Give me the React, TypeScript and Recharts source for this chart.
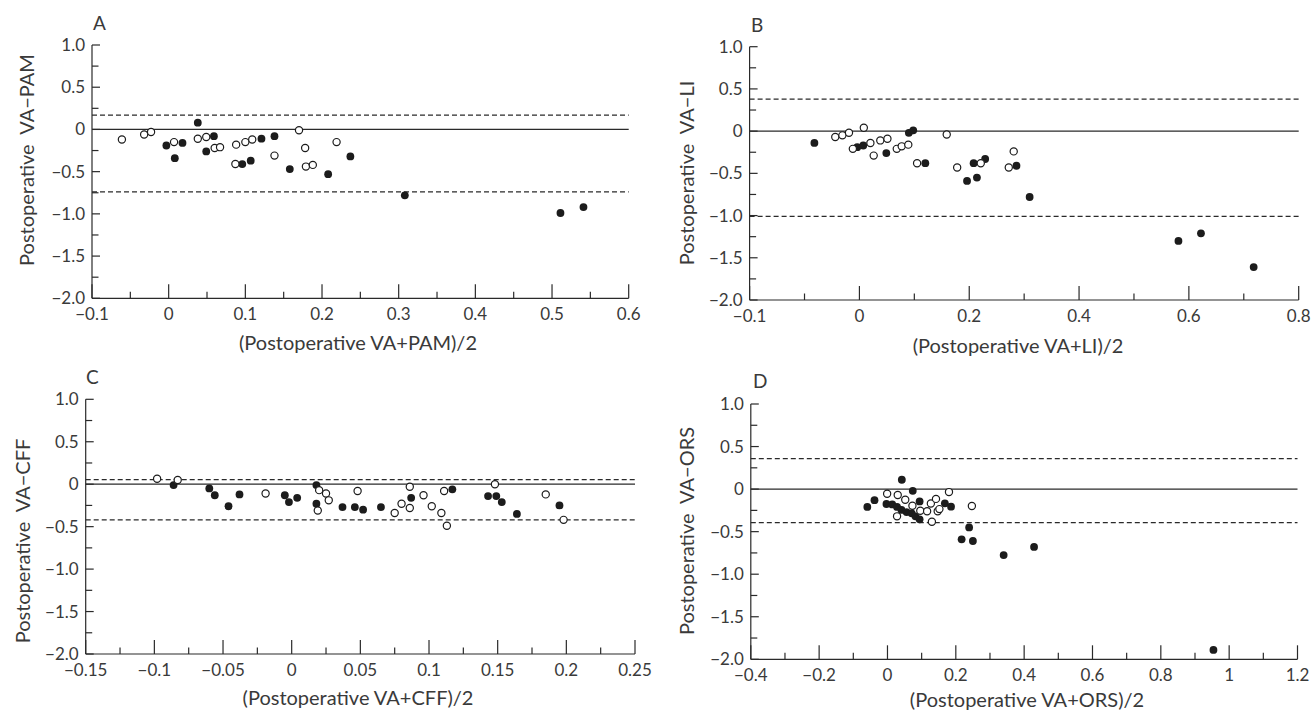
import React from 'react';
import { ScatterChart, Scatter, XAxis, YAxis, ReferenceLine } from 'recharts';

type Pt = { x: number; y: number };

// ---- Panel A: VA vs PAM
const aOpen: Pt[] = [
  { x: -0.061, y: -0.12 }, { x: -0.032, y: -0.06 }, { x: -0.023, y: -0.03 }, { x: 0.007, y: -0.15 },
  { x: 0.038, y: -0.11 }, { x: 0.049, y: -0.09 }, { x: 0.06, y: -0.22 }, { x: 0.067, y: -0.21 },
  { x: 0.088, y: -0.18 }, { x: 0.087, y: -0.41 }, { x: 0.1, y: -0.15 }, { x: 0.109, y: -0.12 },
  { x: 0.138, y: -0.31 }, { x: 0.17, y: -0.01 }, { x: 0.178, y: -0.22 }, { x: 0.179, y: -0.44 },
  { x: 0.188, y: -0.42 }, { x: 0.219, y: -0.15 },
];
const aFilled: Pt[] = [
  { x: -0.003, y: -0.19 }, { x: 0.008, y: -0.34 }, { x: 0.018, y: -0.16 }, { x: 0.038, y: 0.08 },
  { x: 0.049, y: -0.26 }, { x: 0.059, y: -0.08 }, { x: 0.096, y: -0.41 }, { x: 0.107, y: -0.37 },
  { x: 0.121, y: -0.11 }, { x: 0.138, y: -0.08 }, { x: 0.158, y: -0.47 }, { x: 0.208, y: -0.53 },
  { x: 0.237, y: -0.32 }, { x: 0.308, y: -0.78 }, { x: 0.511, y: -0.99 }, { x: 0.541, y: -0.92 },
];
const aLimits = [0.17, -0.74];
const aXMajor = [-0.1, 0, 0.1, 0.2, 0.3, 0.4, 0.5, 0.6];
const aXLabels = ['−0.1', '0', '0.1', '0.2', '0.3', '0.4', '0.5', '0.6'];
const aXMinor = [-0.05, 0.05, 0.15, 0.25, 0.35, 0.45, 0.55];

// ---- Panel B: VA vs LI (left tick is printed as "-0.1" in the original)
const bOpen: Pt[] = [
  { x: -0.044, y: -0.07 }, { x: -0.031, y: -0.05 }, { x: -0.019, y: -0.02 }, { x: 0.008, y: 0.04 },
  { x: -0.012, y: -0.21 }, { x: 0.02, y: -0.14 }, { x: 0.026, y: -0.29 }, { x: 0.038, y: -0.11 },
  { x: 0.051, y: -0.09 }, { x: 0.068, y: -0.21 }, { x: 0.077, y: -0.18 }, { x: 0.089, y: -0.16 },
  { x: 0.105, y: -0.38 }, { x: 0.159, y: -0.04 }, { x: 0.178, y: -0.43 }, { x: 0.221, y: -0.38 },
  { x: 0.272, y: -0.43 }, { x: 0.281, y: -0.24 },
];
const bFilled: Pt[] = [
  { x: -0.082, y: -0.14 }, { x: -0.004, y: -0.19 }, { x: 0.007, y: -0.17 }, { x: 0.049, y: -0.26 },
  { x: 0.09, y: -0.02 }, { x: 0.098, y: 0.01 }, { x: 0.12, y: -0.38 }, { x: 0.196, y: -0.59 },
  { x: 0.208, y: -0.38 }, { x: 0.214, y: -0.55 }, { x: 0.229, y: -0.33 }, { x: 0.286, y: -0.41 },
  { x: 0.31, y: -0.78 }, { x: 0.581, y: -1.3 }, { x: 0.622, y: -1.21 }, { x: 0.718, y: -1.61 },
];
const bLimits = [0.38, -1.01];
const bXMajor = [-0.2, 0, 0.2, 0.4, 0.6, 0.8];
const bXLabels = ['−0.1', '0', '0.2', '0.4', '0.6', '0.8'];
const bXMinor = [-0.1, 0.1, 0.3, 0.5, 0.7];

// ---- Panel C: VA vs CFF
const cOpen: Pt[] = [
  { x: -0.098, y: 0.065 }, { x: -0.083, y: 0.05 }, { x: -0.019, y: -0.11 }, { x: 0.019, y: -0.31 },
  { x: 0.02, y: -0.07 }, { x: 0.025, y: -0.11 }, { x: 0.027, y: -0.19 }, { x: 0.048, y: -0.08 },
  { x: 0.075, y: -0.34 }, { x: 0.08, y: -0.23 }, { x: 0.086, y: -0.28 }, { x: 0.086, y: -0.03 },
  { x: 0.096, y: -0.13 }, { x: 0.102, y: -0.26 }, { x: 0.109, y: -0.34 }, { x: 0.111, y: -0.08 },
  { x: 0.113, y: -0.49 }, { x: 0.148, y: 0.0 }, { x: 0.185, y: -0.12 }, { x: 0.198, y: -0.42 },
];
const cFilled: Pt[] = [
  { x: -0.086, y: -0.01 }, { x: -0.06, y: -0.05 }, { x: -0.056, y: -0.13 }, { x: -0.046, y: -0.26 },
  { x: -0.038, y: -0.12 }, { x: -0.005, y: -0.13 }, { x: -0.002, y: -0.21 }, { x: 0.004, y: -0.16 },
  { x: 0.018, y: -0.01 }, { x: 0.018, y: -0.23 }, { x: 0.037, y: -0.27 }, { x: 0.046, y: -0.27 },
  { x: 0.052, y: -0.3 }, { x: 0.065, y: -0.27 }, { x: 0.087, y: -0.16 }, { x: 0.117, y: -0.06 },
  { x: 0.143, y: -0.14 }, { x: 0.149, y: -0.14 }, { x: 0.153, y: -0.21 }, { x: 0.164, y: -0.35 },
  { x: 0.195, y: -0.25 },
];
const cLimits = [0.055, -0.42];
const cXMajor = [-0.15, -0.1, -0.05, 0, 0.05, 0.1, 0.15, 0.2, 0.25];
const cXLabels = ['−0.15', '−0.1', '−0.05', '0', '0.05', '0.1', '0.15', '0.2', '0.25'];
const cXMinor = [-0.125, -0.075, -0.025, 0.025, 0.075, 0.125, 0.175, 0.225];

// ---- Panel D: VA vs ORS
const dOpen: Pt[] = [
  { x: -0.001, y: -0.055 }, { x: 0.03, y: -0.07 }, { x: 0.052, y: -0.125 }, { x: 0.073, y: -0.195 },
  { x: 0.096, y: -0.255 }, { x: 0.116, y: -0.26 }, { x: 0.127, y: -0.17 }, { x: 0.142, y: -0.115 },
  { x: 0.147, y: -0.26 }, { x: 0.152, y: -0.235 }, { x: 0.18, y: -0.035 }, { x: 0.028, y: -0.32 },
  { x: 0.13, y: -0.383 }, { x: 0.247, y: -0.198 },
];
const dFilled: Pt[] = [
  { x: -0.059, y: -0.21 }, { x: -0.038, y: -0.13 }, { x: 0.042, y: 0.11 }, { x: 0.074, y: -0.02 },
  { x: -0.003, y: -0.175 }, { x: 0.014, y: -0.18 }, { x: 0.028, y: -0.21 }, { x: 0.041, y: -0.245 },
  { x: 0.056, y: -0.27 }, { x: 0.071, y: -0.285 }, { x: 0.082, y: -0.32 }, { x: 0.094, y: -0.355 },
  { x: 0.094, y: -0.145 }, { x: 0.168, y: -0.167 }, { x: 0.186, y: -0.207 }, { x: 0.239, y: -0.45 },
  { x: 0.217, y: -0.59 }, { x: 0.25, y: -0.61 }, { x: 0.34, y: -0.775 }, { x: 0.429, y: -0.68 },
  { x: 0.954, y: -1.89 },
];
const dLimits = [0.357, -0.394];
const dXMajor = [-0.4, -0.2, 0, 0.2, 0.4, 0.6, 0.8, 1, 1.2];
const dXLabels = ['−0.4', '−0.2', '0', '0.2', '0.4', '0.6', '0.8', '1', '1.2'];
const dXMinor = [-0.3, -0.1, 0.1, 0.3, 0.5, 0.7, 0.9, 1.1];

// shared y axis
const yMajor = [1, 0.5, 0, -0.5, -1, -1.5, -2];
const yLabels = ['1.0', '0.5', '0', '−0.5', '−1.0', '−1.5', '−2.0'];
const yMinor = [0.75, 0.25, -0.25, -0.75, -1.25, -1.75];

const ink = '#1c1c1c';
const lineInk = '#2a2a2a';
const textInk = '#3a3a3a';
const font = 'Lato, "DejaVu Sans", sans-serif';
const tickSize = 17;
const titleSize = 20;

const findMajor = (arr: number[], v: number) => arr.findIndex((m) => Math.abs(m - v) < 1e-9);

const XTick = (props: any) => {
  const { x, y, payload, majors, labels } = props;
  const i = findMajor(majors, payload.value);
  const major = i >= 0;
  return (
    <g>
      <line x1={x} x2={x} y1={y} y2={y - (major ? 14 : 6.5)} stroke={lineInk} strokeWidth={1.2} />
      {major && (
        <text x={x} y={y + 22} textAnchor="middle" fill={textInk} fontFamily={font} fontSize={tickSize}>
          {labels[i]}
        </text>
      )}
    </g>
  );
};

const YTick = (props: any) => {
  const { x, y, payload } = props;
  const i = findMajor(yMajor, payload.value);
  const major = i >= 0;
  return (
    <g>
      <line x1={x} x2={x + (major ? 8 : 6.5)} y1={y} y2={y} stroke={lineInk} strokeWidth={1.2} />
      {major && (
        <text x={x - 7} y={y + 6} textAnchor="end" fill={textInk} fontFamily={font} fontSize={tickSize}>
          {yLabels[i]}
        </text>
      )}
    </g>
  );
};

const openDot = (p: any) => (
  <circle cx={p.cx} cy={p.cy} r={3.6} fill="#fff" stroke={ink} strokeWidth={1.2} />
);
const filledDot = (p: any) => <circle cx={p.cx} cy={p.cy} r={3.9} fill={ink} />;

type PanelProps = {
  left: number; top: number; width: number; height: number;
  plot: { l: number; r: number; t: number; b: number };
  letter: string; letterPos: [number, number];
  xDomain: [number, number];
  xMajor: number[]; xMinor: number[]; xLabels: string[];
  open: Pt[]; filled: Pt[]; limits: number[];
  xTitle: string; xTitlePos: [number, number];
  yTitle: string; yTitlePos: [number, number];
};

const Panel = (p: PanelProps) => {
  const xTicks = [...p.xMajor, ...p.xMinor].sort((a, b) => a - b);
  const yTicks = [...yMajor, ...yMinor].sort((a, b) => a - b);
  return (
    <>
      <div style={{ position: 'absolute', left: p.left, top: p.top, width: p.width, height: p.height }}>
        <ScatterChart
          width={p.width}
          height={p.height}
          style={{ overflow: 'visible' }}
          margin={{ top: p.plot.t - p.top, right: p.left + p.width - p.plot.r, left: 0, bottom: 0 }}
        >
          <XAxis
            type="number"
            dataKey="x"
            domain={p.xDomain}
            ticks={xTicks}
            interval={0}
            allowDataOverflow
            height={p.top + p.height - p.plot.b}
            axisLine={{ stroke: lineInk, strokeWidth: 1.2 }}
            tickLine={false}
            tickSize={0}
            tickMargin={0}
            tick={(t: any) => <XTick {...t} majors={p.xMajor} labels={p.xLabels} />}
          />
          <YAxis
            type="number"
            dataKey="y"
            domain={[-2, 1]}
            ticks={yTicks}
            interval={0}
            allowDataOverflow
            width={p.plot.l - p.left}
            axisLine={{ stroke: lineInk, strokeWidth: 1.2 }}
            tickLine={false}
            tickSize={0}
            tickMargin={0}
            tick={(t: any) => <YTick {...t} />}
          />
          <ReferenceLine y={0} stroke={lineInk} strokeWidth={1.3} />
          {p.limits.map((v, i) => (
            <ReferenceLine key={i} y={v} stroke={lineInk} strokeWidth={1.2} strokeDasharray="5 3" />
          ))}
          <Scatter data={p.filled} shape={filledDot} isAnimationActive={false} />
          <Scatter data={p.open} shape={openDot} isAnimationActive={false} />
        </ScatterChart>
      </div>
      <div style={{ position: 'absolute', left: p.letterPos[0], top: p.letterPos[1], fontFamily: font, fontSize: 19, lineHeight: 1, color: textInk }}>
        {p.letter}
      </div>
      <div
        style={{
          position: 'absolute', left: p.xTitlePos[0], top: p.xTitlePos[1], transform: 'translate(-50%, -50%)',
          fontFamily: font, fontSize: titleSize, color: textInk, whiteSpace: 'pre', lineHeight: 1,
        }}
      >
        {p.xTitle}
      </div>
      <div
        style={{
          position: 'absolute', left: p.yTitlePos[0], top: p.yTitlePos[1], transform: 'translate(-50%, -50%) rotate(-90deg)',
          fontFamily: font, fontSize: titleSize, color: textInk, whiteSpace: 'pre', lineHeight: 1,
        }}
      >
        {p.yTitle}
      </div>
    </>
  );
};

export default function App() {
  return (
    <div style={{ position: 'absolute', left: 0, top: 0, width: 1312, height: 710, background: '#fff', overflow: 'hidden' }}>
      <Panel
        left={0} top={0} width={656} height={360}
        plot={{ l: 92, r: 628.7, t: 45, b: 298.3 }}
        letter="A" letterPos={[93, 13]}
        xDomain={[-0.1, 0.6]} xMajor={aXMajor} xMinor={aXMinor} xLabels={aXLabels}
        open={aOpen} filled={aFilled} limits={aLimits}
        xTitle="(Postoperative VA+PAM)/2" xTitlePos={[358, 342]}
        yTitle="Postoperative  VA−PAM" yTitlePos={[26, 160]}
      />
      <Panel
        left={656} top={0} width={656} height={360}
        plot={{ l: 749.6, r: 1298.7, t: 46.7, b: 300 }}
        letter="B" letterPos={[751, 15]}
        xDomain={[-0.2, 0.8]} xMajor={bXMajor} xMinor={bXMinor} xLabels={bXLabels}
        open={bOpen} filled={bFilled} limits={bLimits}
        xTitle="(Postoperative VA+LI)/2" xTitlePos={[1018, 345]}
        yTitle="Postoperative  VA−LI" yTitlePos={[686, 173]}
      />
      <Panel
        left={0} top={350} width={656} height={360}
        plot={{ l: 85.7, r: 635, t: 399.3, b: 654 }}
        letter="C" letterPos={[86, 367]}
        xDomain={[-0.15, 0.25]} xMajor={cXMajor} xMinor={cXMinor} xLabels={cXLabels}
        open={cOpen} filled={cFilled} limits={cLimits}
        xTitle="(Postoperative VA+CFF)/2" xTitlePos={[358, 697]}
        yTitle="Postoperative  VA−CFF" yTitlePos={[22, 541]}
      />
      <Panel
        left={656} top={350} width={656} height={360}
        plot={{ l: 750.8, r: 1297.5, t: 404, b: 659.3 }}
        letter="D" letterPos={[753, 371]}
        xDomain={[-0.4, 1.2]} xMajor={dXMajor} xMinor={dXMinor} xLabels={dXLabels}
        open={dOpen} filled={dFilled} limits={dLimits}
        xTitle="(Postoperative VA+ORS)/2" xTitlePos={[1027, 699]}
        yTitle="Postoperative  VA−ORS" yTitlePos={[686, 531]}
      />
    </div>
  );
}
